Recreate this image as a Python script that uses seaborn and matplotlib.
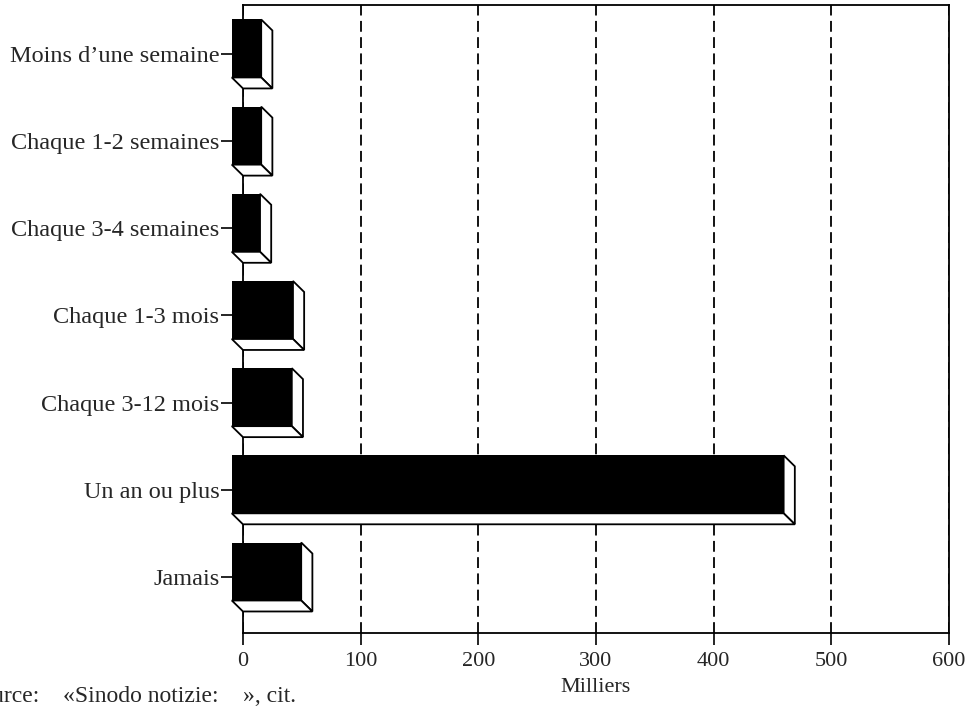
import matplotlib
matplotlib.use('Agg')
import matplotlib.pyplot as plt
import seaborn as sns
from matplotlib.patches import Polygon

# Data (milliers)
categories = ['Moins d\u2019une semaine', 'Chaque 1-2 semaines', 'Chaque 3-4 semaines',
              'Chaque 1-3 mois', 'Chaque 3-12 mois', 'Un an ou plus', 'Jamais']
values = [25, 25, 24, 52, 51, 469, 59]
xticks = [0, 100, 200, 300, 400, 500, 600]

sns.set_style('white')
plt.rcParams['font.family'] = ['Liberation Serif', 'DejaVu Serif']
plt.rcParams['font.size'] = 16

fig = plt.figure(figsize=(9.73, 7.10), dpi=100)
ax = fig.add_axes([0.2497, 0.1085, 0.7256, 0.8845])

sns.barplot(x=values, y=categories, orient='h', color='black', width=0.665,
            linewidth=0, saturation=1, ax=ax)

# fake 3D depth: front face shifted left/up, side + bottom faces drawn white
dx = 9.5      # data units along x
dy = 0.126    # category units along y
for p in list(ax.patches):
    w = p.get_width()
    y0 = p.get_y()
    h = p.get_height()
    p.set_x(-dx)
    p.set_y(y0 - dy / 2)
    p.set_clip_on(False)
    p.set_zorder(3)
    top_f, bot_f = y0 - dy / 2, y0 + h - dy / 2
    top_b, bot_b = y0 + dy / 2, y0 + h + dy / 2
    side = Polygon([(w - dx, top_f), (w, top_b), (w, bot_b), (w - dx, bot_f)],
                   closed=True, facecolor='white', edgecolor='black', lw=1.3,
                   zorder=3, clip_on=False)
    bottom = Polygon([(-dx, bot_f), (0, bot_b), (w, bot_b), (w - dx, bot_f)],
                     closed=True, facecolor='white', edgecolor='black', lw=1.3,
                     zorder=3, clip_on=False)
    ax.add_patch(side)
    ax.add_patch(bottom)

ax.set_xlim(0, 600)
ax.set_ylim(6.642, -0.562)
ax.set_xticks(xticks)
ax.set_xticklabels([str(t) for t in xticks])
ax.set_xlabel('Milliers', labelpad=5)
ax.set_ylabel('')

ax.xaxis.grid(True, linestyle=(0, (6, 3)), color='black', lw=1.3)
ax.yaxis.grid(False)
ax.set_axisbelow(True)

for s in ax.spines.values():
    s.set_visible(True)
    s.set_color('black')
    s.set_linewidth(1.3)

ax.tick_params(axis='y', length=16, width=1.2, color='black', pad=1, left=True,
               labelsize=17.5)
ax.tick_params(axis='x', length=8.5, width=1.2, color='black', pad=5, bottom=True,
               direction='out', labelsize=16)

# source note (the start of "Source" runs off the page edge, as in the scan)
fig.text(40 / 973, 3 / 710, 'Source:', ha='right', va='bottom', fontsize=17)
fig.text(63 / 973, 3 / 710, '\u00abSinodo notizie:', ha='left', va='bottom', fontsize=17)
fig.text(243 / 973, 3 / 710, '\u00bb, cit.', ha='left', va='bottom', fontsize=17)

fig.savefig('out.png', dpi=100)
